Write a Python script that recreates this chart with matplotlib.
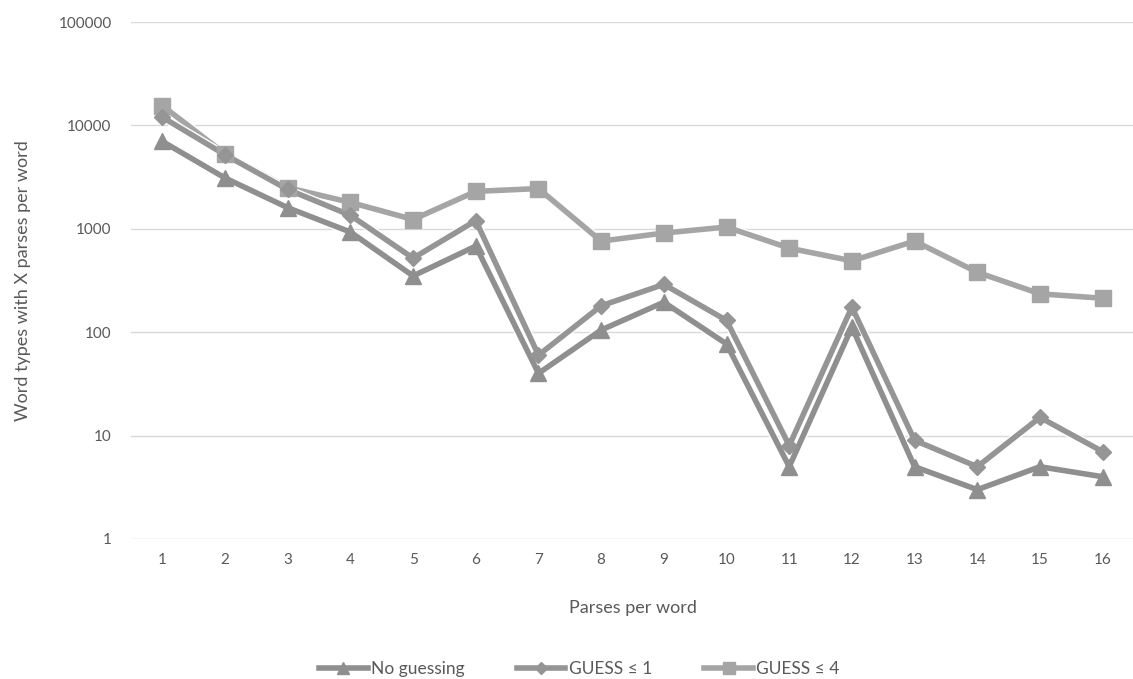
import matplotlib
matplotlib.use("Agg")
import matplotlib.pyplot as plt
import matplotlib.patheffects as pe
from matplotlib.lines import Line2D
from matplotlib.ticker import FixedLocator, NullLocator

plt.rcParams['font.family'] = ['Lato', 'DejaVu Sans']

parses = list(range(1, 17))
no_guessing = [7000, 3100, 1600, 930, 350, 680, 40, 105, 195, 77, 5, 112, 5, 3, 5, 4]
guess_1 = [12000, 5200, 2400, 1350, 520, 1200, 60, 180, 290, 130, 8, 175, 9, 5, 15, 7]
guess_4 = [15500, 5300, 2500, 1800, 1230, 2300, 2450, 760, 910, 1040, 650, 490, 760, 380, 235, 213]

yticks = [1, 10, 100, 1000, 10000, 100000]
txt = '#595959'

fig = plt.figure(figsize=(11.33, 6.79), dpi=100)
ax = fig.add_axes([131 / 1133, 1 - 539 / 679, 1003 / 1133, 517 / 679])

outline = [pe.Stroke(linewidth=6, foreground='white'), pe.Normal()]
series = [
    (no_guessing, '#8f8f8f', '^', 11, 'No guessing', 3),
    (guess_1, '#959595', 'D', 8, 'GUESS ≤ 1', 4),
    (guess_4, '#a5a5a5', 's', 11, 'GUESS ≤ 4', 2),
]
handles = []
for vals, col, mk, ms, lab, z in series:
    ax.plot(parses, vals, color=col, lw=4, path_effects=outline, zorder=z)
    ax.plot(parses, vals, ls='none', marker=mk, ms=ms, color=col, zorder=z + 3)
    handles.append(Line2D([], [], color=col, lw=4, marker=mk, ms=ms * 0.8, label=lab))

ax.set_yscale('log')
ax.set_ylim(1, 100000)
ax.set_xlim(0.5, 16.5)
ax.yaxis.set_major_locator(FixedLocator(yticks))
ax.yaxis.set_minor_locator(NullLocator())
ax.set_yticks(yticks, [str(v) for v in yticks])
ax.set_xticks(parses, [str(p) for p in parses])
ax.grid(axis='y', color='#d9d9d9', lw=1)
ax.set_axisbelow(True)
for s in ax.spines.values():
    s.set_visible(False)
ax.tick_params(length=0, colors=txt, labelsize=11)
ax.tick_params(axis='y', pad=14)
ax.tick_params(axis='x', pad=10)

ax.set_xlabel('Parses per word', color=txt, fontsize=13, labelpad=24)
ax.set_ylabel('Word types with X parses per word', color=txt, fontsize=13, labelpad=20)

leg = ax.legend(handles=handles, loc='upper center', bbox_to_anchor=(0.447, -0.205), ncol=3,
                frameon=False, fontsize=12.5, handlelength=2.8, handletextpad=0.2,
                columnspacing=3.0)
for t in leg.get_texts():
    t.set_color(txt)

fig.savefig('out.png', dpi=100)
